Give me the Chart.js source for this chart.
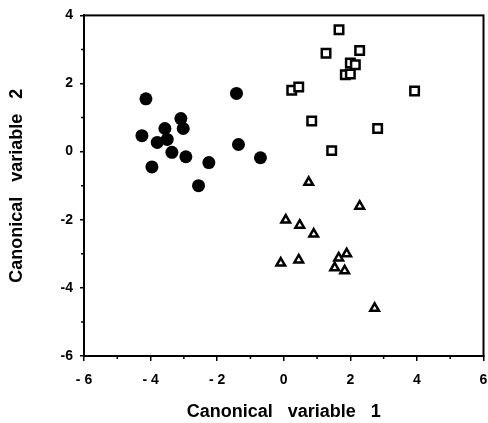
<!DOCTYPE html>
<html>
<head>
<meta charset="utf-8">
<script src="https://cdn.jsdelivr.net/npm/chart.js@4.4.0/dist/chart.umd.min.js"></script>
<style>
  html, body { margin: 0; padding: 0; background: #fff; overflow: hidden; }
  #wrap { width: 492px; height: 423px; }
</style>
</head>
<body>
<div id="wrap"><canvas id="chart"></canvas></div>
<script>
// group 1: filled circles
const circleX = [-4.14, -4.26, -3.8, -3.96, -3.57, -3.5, -3.36, -3.09, -3.02, -2.94, -2.56, -2.25, -1.42, -1.36, -0.7];
const circleY = [1.55, 0.47, 0.27, -0.45, 0.68, 0.36, -0.02, 0.97, 0.68, -0.15, -1.0, -0.32, 1.71, 0.21, -0.18];
// group 2: open squares
const squareX = [1.66, 1.27, 2.28, 2.0, 2.15, 1.85, 2.0, 0.24, 0.45, 3.93, 0.84, 2.82, 1.44];
const squareY = [3.58, 2.89, 2.97, 2.6, 2.55, 2.26, 2.28, 1.8, 1.9, 1.78, 0.9, 0.68, 0.03];
// group 3: open triangles
const triX = [0.75, 2.28, 0.06, 0.48, 0.9, -0.09, 0.45, 1.65, 1.89, 1.53, 1.83, 2.73];
const triY = [-0.9, -1.6, -2.01, -2.16, -2.42, -3.27, -3.18, -3.12, -3.0, -3.41, -3.5, -4.6];

const xTicks = [-6, -4, -2, 0, 2, 4, 6];
const yTicks = [-6, -4, -2, 0, 2, 4];
const xLabels = ['- 6', '- 4', '- 2', '0', '2', '4', '6'];

function toPoints(xs, ys) {
  return xs.map((x, i) => ({ x: x, y: ys[i] }));
}

const tickFont = { family: 'Liberation Sans', size: 14, weight: 'bold' };
const titleFont = { family: 'Liberation Sans', size: 18, weight: 'bold' };

// frame around plot + small minor ticks
const framePlugin = {
  id: 'frame',
  afterDraw(chart) {
    const ctx = chart.ctx;
    const a = chart.chartArea;
    const xs = chart.scales.x, ys = chart.scales.y;
    ctx.save();
    ctx.strokeStyle = '#000';
    ctx.lineWidth = 2;
    ctx.strokeRect(a.left, a.top, a.right - a.left, a.bottom - a.top);
    ctx.lineWidth = 1.5;
    ctx.beginPath();
    for (let v = -5; v <= 5; v += 2) {
      const px = xs.getPixelForValue(v);
      ctx.moveTo(px, a.bottom);
      ctx.lineTo(px, a.bottom + 3);
    }
    for (let v = -5; v <= 3; v += 2) {
      const py = ys.getPixelForValue(v);
      ctx.moveTo(a.left, py);
      ctx.lineTo(a.left - 3, py);
    }
    ctx.stroke();
    ctx.restore();
  }
};

new Chart(document.getElementById('chart'), {
  type: 'scatter',
  data: {
    datasets: [
      {
        data: toPoints(circleX, circleY),
        pointStyle: 'circle',
        pointRadius: 6.5,
        backgroundColor: '#000',
        borderColor: '#000',
        borderWidth: 0
      },
      {
        data: toPoints(squareX, squareY),
        pointStyle: 'rect',
        pointRadius: 6,
        backgroundColor: '#fff',
        borderColor: '#000',
        borderWidth: 2.5
      },
      {
        data: toPoints(triX, triY),
        pointStyle: 'triangle',
        pointRadius: 5,
        backgroundColor: '#fff',
        borderColor: '#000',
        borderWidth: 2.5
      }
    ]
  },
  options: {
    responsive: true,
    maintainAspectRatio: false,
    animation: false,
    events: [],
    layout: { padding: { left: 2, right: 0, top: 11, bottom: 0 } },
    plugins: { legend: { display: false }, tooltip: { enabled: false } },
    scales: {
      x: {
        type: 'linear',
        min: -6, max: 6,
        afterBuildTicks: s => { s.ticks = xTicks.map(v => ({ value: v })); },
        afterFit: s => { s.paddingRight = 0; s.height = 67; },
        border: { color: '#000', width: 2 },
        grid: { drawOnChartArea: false, color: '#000', tickLength: 5, lineWidth: 1.5 },
        ticks: {
          color: '#000', font: tickFont, padding: 11, maxRotation: 0,
          callback: v => xLabels[xTicks.indexOf(v)]
        },
        title: {
          display: true, text: 'Canonical   variable   1',
          color: '#000', font: titleFont, padding: { top: 4, bottom: 0 }
        }
      },
      y: {
        type: 'linear',
        min: -6, max: 4,
        afterBuildTicks: s => { s.ticks = yTicks.map(v => ({ value: v })); },
        afterFit: s => { s.width = 82; },
        border: { color: '#000', width: 2 },
        grid: { drawOnChartArea: false, color: '#000', tickLength: 4, lineWidth: 1.5 },
        ticks: { color: '#000', font: tickFont, padding: 7 },
        title: {
          display: true, text: 'Canonical   variable   2',
          color: '#000', font: titleFont, padding: { top: 4, bottom: 0 }
        }
      }
    }
  },
  plugins: [framePlugin]
});
</script>
</body>
</html>
